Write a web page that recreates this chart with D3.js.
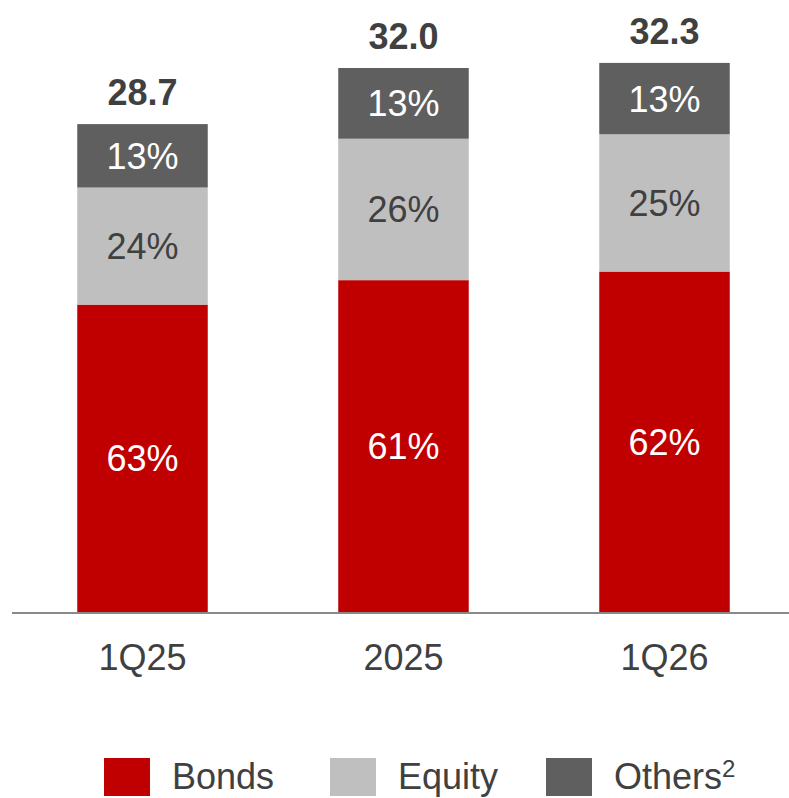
<!DOCTYPE html>
<html>
<head>
<meta charset="utf-8">
<script src="https://cdn.jsdelivr.net/npm/d3@7"></script>
<style>
  html, body { margin: 0; padding: 0; background: #ffffff; }
  svg { display: block; font-family: "Liberation Sans", Arial, sans-serif; }
</style>
</head>
<body>
<svg id="chart" width="789" height="798"></svg>
<script>
// Portfolio mix by period (totals, and shares per asset class in %)
const categories = ["1Q25", "2025", "1Q26"];
const totals = [28.7, 32.0, 32.3];
const bonds = [63, 61, 62];
const equity = [24, 26, 25];
const others = [13, 13, 13];
const seriesNames = ["Bonds", "Equity", "Others"];
const seriesColors = ["#C00000", "#BFBFBF", "#5F5F5F"];
const labelColors = ["#FFFFFF", "#404040", "#FFFFFF"];

const svg = d3.select("#chart");
const W = 789;

// Rows for the stack: each segment's absolute size is the total times its share
const rows = categories.map((c, i) => ({
  cat: c,
  total: totals[i],
  Bonds: totals[i] * bonds[i] / 100,
  Equity: totals[i] * equity[i] / 100,
  Others: totals[i] * others[i] / 100,
  pct: { Bonds: bonds[i], Equity: equity[i], Others: others[i] }
}));

const x = d3.scaleBand()
  .domain(categories)
  .range([12, 795])
  .paddingInner(0.5)
  .paddingOuter(0.25);

const y = d3.scaleLinear().domain([0, 36]).range([612, 0]);

const stack = d3.stack().keys(seriesNames)(rows);

const layers = svg.append("g")
  .selectAll("g")
  .data(stack)
  .join("g")
  .attr("fill", (d, i) => seriesColors[i]);

layers.selectAll("rect")
  .data(d => d)
  .join("rect")
  .attr("x", d => x(d.data.cat))
  .attr("width", x.bandwidth())
  .attr("y", d => y(d[1]))
  .attr("height", d => y(d[0]) - y(d[1]));

// Share labels centred in each segment
layers.each(function (layer, li) {
  d3.select(this).selectAll("text")
    .data(layer)
    .join("text")
    .attr("x", d => x(d.data.cat) + x.bandwidth() / 2)
    .attr("y", d => (y(d[0]) + y(d[1])) / 2)
    .attr("dy", "0.36em")
    .attr("text-anchor", "middle")
    .attr("font-size", 36)
    .attr("fill", labelColors[li])
    .text(d => d.data.pct[layer.key] + "%");
});

// Totals above bars
svg.append("g")
  .selectAll("text")
  .data(rows)
  .join("text")
  .attr("x", d => x(d.cat) + x.bandwidth() / 2)
  .attr("y", d => y(d.total) - 19)
  .attr("text-anchor", "middle")
  .attr("font-size", 36)
  .attr("font-weight", "bold")
  .attr("fill", "#404040")
  .text(d => d.total.toFixed(1));

// Category axis
const axis = svg.append("g")
  .attr("transform", `translate(0,${y(0)})`)
  .call(d3.axisBottom(x).tickSize(0).tickPadding(0));
axis.select(".domain").remove();
axis.selectAll("text")
  .attr("y", 58)
  .attr("dy", 0)
  .attr("font-size", 36)
  .attr("font-family", "Liberation Sans, Arial, sans-serif")
  .attr("fill", "#404040");

svg.append("line")
  .attr("x1", 12).attr("x2", W)
  .attr("y1", y(0) + 1).attr("y2", y(0) + 1)
  .attr("stroke", "#898989")
  .attr("stroke-width", 2);

// Legend
const legendX = [104, 330, 546];
const legend = svg.append("g")
  .selectAll("g")
  .data(seriesNames)
  .join("g")
  .attr("transform", (d, i) => `translate(${legendX[i]},758)`);

legend.append("rect")
  .attr("width", 46)
  .attr("height", 38)
  .attr("fill", (d, i) => seriesColors[i]);

const legText = legend.append("text")
  .attr("x", 68)
  .attr("y", 31)
  .attr("font-size", 36)
  .attr("fill", "#404040")
  .text(d => d);

legText.filter(d => d === "Others")
  .append("tspan")
  .attr("font-size", 24)
  .attr("dy", -12)
  .text("2");
</script>
</body>
</html>
